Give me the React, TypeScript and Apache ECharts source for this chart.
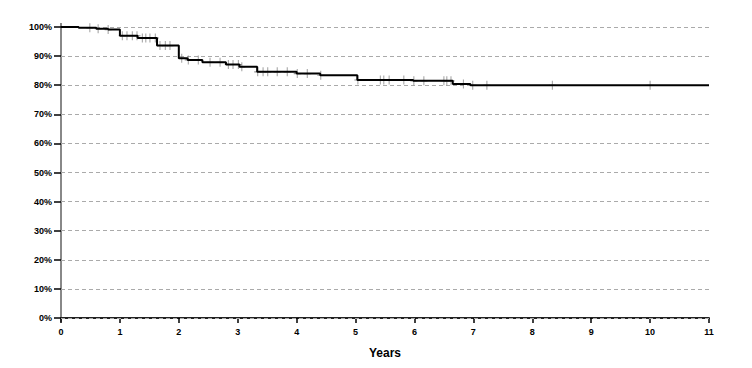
import React, { useEffect, useRef } from "react";
import * as echarts from "echarts";

// Kaplan-Meier step points (years, survival %)
const eventTimes = [0, 0.3, 0.6, 0.8, 1.0, 1.3, 1.63, 2.0, 2.15, 2.4, 2.8, 3.03, 3.33, 4.0, 4.4, 5.03, 5.98, 6.65, 6.95, 11];
const survival = [100, 99.7, 99.4, 99.1, 97.0, 96.2, 93.6, 89.3, 88.7, 87.9, 87.1, 86.3, 84.6, 84.0, 83.4, 81.8, 81.5, 80.4, 80.0, 80.0];

// Censored observations (years)
const censorTimes = [
  0.49, 0.63, 0.8, 1.04, 1.12, 1.21, 1.29, 1.38, 1.44, 1.51, 1.6, 1.68, 1.77, 1.85,
  2.05, 2.16, 2.33, 2.53, 2.7, 2.84, 2.92, 3.01, 3.07, 3.34, 3.43, 3.51, 3.67, 3.84,
  4.01, 4.18, 4.41, 5.04, 5.42, 5.48, 5.57, 5.82, 5.99, 6.16, 6.5, 6.55, 6.62, 6.83,
  6.99, 7.23, 8.34, 10.0,
];

const xTicks = [0, 11, 1];
const yTickValues = [0, 10, 20, 30, 40, 50, 60, 70, 80, 90, 100];
const yRange = [-1.03, 101.03];

function survivalAt(t: number): number {
  let s = survival[0];
  for (let i = 0; i < eventTimes.length; i++) {
    if (eventTimes[i] <= t) s = survival[i];
  }
  return s;
}

const FONT = "Liberation Sans, Arial, Helvetica, sans-serif";

export default function App() {
  const ref = useRef<HTMLDivElement>(null);
  useEffect(() => {
    if (!ref.current) return;
    const chart = echarts.init(ref.current, undefined, { renderer: "svg" });
    const lineData = eventTimes.map((t, i) => [t, survival[i]]);
    const censorData = censorTimes.map((t) => [t, survivalAt(t)]);
    chart.setOption({
      animation: false,
      backgroundColor: "#ffffff",
      grid: { left: 61, right: 43, top: 24, bottom: 47, containLabel: false },
      xAxis: [
        {
          type: "value",
          min: xTicks[0],
          max: xTicks[1],
          interval: xTicks[2],
          name: "Years",
          nameLocation: "middle",
          nameGap: 26,
          nameTextStyle: { fontFamily: FONT, fontWeight: "bold", fontSize: 12, color: "#000" },
          axisLine: { show: true, lineStyle: { color: "#888", width: 2 } },
          axisTick: { show: true, length: 5, lineStyle: { color: "#000", width: 1.5 } },
          axisLabel: { fontFamily: FONT, fontWeight: "bold", fontSize: 9, color: "#000", margin: 6 },
          splitLine: { show: false },
        },
        {
          type: "value",
          position: "top",
          min: xTicks[0],
          max: xTicks[1],
          axisLine: { show: true, lineStyle: { color: "#000", width: 1.5 } },
          axisTick: { show: false },
          axisLabel: { show: false },
          splitLine: { show: false },
        },
      ],
      yAxis: [
        {
          type: "value",
          min: yRange[0],
          max: yRange[1],
          axisLine: { show: true, lineStyle: { color: "#000", width: 1.5 } },
          axisTick: {
            show: true,
            length: 7,
            customValues: yTickValues,
            lineStyle: { color: "#000", width: 1.5 },
          },
          axisLabel: {
            customValues: yTickValues,
            fontFamily: FONT,
            fontWeight: "bold",
            fontSize: 9,
            color: "#000",
            margin: 9,
            formatter: "{value}%",
          },
          splitLine: { show: false },
        },
        {
          type: "value",
          position: "right",
          min: yRange[0],
          max: yRange[1],
          axisLine: { show: true, lineStyle: { color: "#888", width: 2 } },
          axisTick: { show: false },
          axisLabel: { show: false },
          splitLine: { show: false },
        },
      ],
      series: [
        {
          type: "scatter",
          data: censorData,
          symbol: "path://M-1,0L1,0M0,-1L0,1",
          symbolSize: [7, 9],
          itemStyle: { color: "rgba(0,0,0,0)", borderColor: "#777", borderWidth: 1 },
          z: 2,
          silent: true,
          markLine: {
            silent: true,
            symbol: "none",
            label: { show: false },
            lineStyle: { color: "#aaa", type: [4, 3], width: 1 },
            data: yTickValues.map((v) => ({ yAxis: v })),
            z: 1,
          },
        },
        {
          type: "line",
          step: "end",
          data: lineData,
          showSymbol: false,
          symbol: "none",
          lineStyle: { color: "#000", width: 2 },
          z: 3,
          silent: true,
        },
      ],
    });
    return () => chart.dispose();
  }, []);
  return <div ref={ref} style={{ width: 752, height: 368, position: "absolute", left: 0, top: 0 }} />;
}
